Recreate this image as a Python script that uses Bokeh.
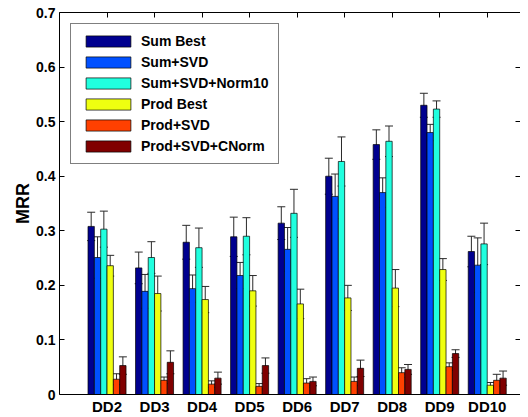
import numpy as np
from bokeh.plotting import figure
from bokeh.models import (ColumnDataSource, Range1d, LinearAxis, FixedTicker,
                          Whisker, TeeHead, CustomJSTickFormatter)
from bokeh.embed import file_html
from bokeh.resources import INLINE

categories = ["DD2", "DD3", "DD4", "DD5", "DD6", "DD7", "DD8", "DD9", "DD10"]
series_names = ["Sum Best", "Sum+SVD", "Sum+SVD+Norm10", "Prod Best", "Prod+SVD", "Prod+SVD+CNorm"]

sum_best = [0.308, 0.232, 0.279, 0.289, 0.314, 0.400, 0.458, 0.530, 0.262]
sum_best_err = [0.026, 0.029, 0.031, 0.036, 0.030, 0.033, 0.027, 0.022, 0.028]
sum_svd = [0.251, 0.189, 0.194, 0.218, 0.266, 0.363, 0.370, 0.480, 0.237]
sum_svd_err = [0.038, 0.031, 0.025, 0.024, 0.040, 0.041, 0.027, 0.015, 0.050]
sum_svd_norm10 = [0.303, 0.251, 0.269, 0.290, 0.332, 0.427, 0.464, 0.523, 0.276]
sum_svd_norm10_err = [0.033, 0.029, 0.036, 0.034, 0.044, 0.045, 0.028, 0.015, 0.038]
prod_best = [0.236, 0.185, 0.174, 0.190, 0.166, 0.177, 0.195, 0.229, 0.017]
prod_best_err = [0.019, 0.032, 0.024, 0.028, 0.027, 0.023, 0.034, 0.020, 0.005]
prod_svd = [0.028, 0.026, 0.019, 0.015, 0.021, 0.024, 0.040, 0.051, 0.026]
prod_svd_err = [0.010, 0.006, 0.006, 0.005, 0.008, 0.008, 0.009, 0.007, 0.011]
prod_svd_cnorm = [0.053, 0.059, 0.030, 0.053, 0.024, 0.048, 0.046, 0.075, 0.030]
prod_svd_cnorm_err = [0.016, 0.021, 0.011, 0.014, 0.008, 0.015, 0.009, 0.007, 0.013]

values = [sum_best, sum_svd, sum_svd_norm10, prod_best, prod_svd, prod_svd_cnorm]
errors = [sum_best_err, sum_svd_err, sum_svd_norm10_err, prod_best_err, prod_svd_err, prod_svd_cnorm_err]
colors = ["#00008F", "#0050FF", "#20FFDF", "#EFFF10", "#FF4000", "#800000"]

FONT = "Liberation Sans"

p = figure(width=520, height=417, output_backend="svg", toolbar_location=None,
           x_range=Range1d(0, 9.70), y_range=Range1d(0, 0.7),
           min_border_left=59, min_border_top=12, min_border_bottom=20, min_border_right=0)
p.outline_line_color = None
p.xgrid.visible = False
p.ygrid.visible = False

n = len(series_names)
group_w = 0.8
bw = group_w / n
pos = np.arange(1, len(categories) + 1)

for k in range(n):
    xs = pos + (k - (n - 1) / 2) * bw
    v = np.array(values[k])
    e = np.array(errors[k])
    src = ColumnDataSource(dict(x=xs, top=v, upper=v + e, lower=v - e))
    p.vbar(x="x", top="top", bottom=0, width=bw, source=src, fill_color=colors[k],
           line_color="black", line_width=0.7, legend_label=series_names[k])
    w = Whisker(base="x", upper="upper", lower="lower", source=src,
                line_color="#2a2a2a", line_width=1,
                upper_head=TeeHead(size=8, line_color="#2a2a2a", line_width=1),
                lower_head=TeeHead(size=8, line_color="#2a2a2a", line_width=1))
    p.add_layout(w)

# bottom axis
xa = p.xaxis[0]
xa.ticker = FixedTicker(ticks=list(pos))
xa.major_label_overrides = {int(i): c for i, c in zip(pos, categories)}
xa.major_tick_in = 0
xa.major_tick_out = 0
xa.minor_tick_line_color = None
xa.major_label_standoff = 3
xa.major_label_text_font = FONT
xa.major_label_text_font_style = "bold"
xa.major_label_text_font_size = "15px"
xa.major_label_text_color = "black"
xa.axis_line_color = "black"

# left axis
ya = p.yaxis[0]
ya.ticker = FixedTicker(ticks=[0, 0.1, 0.2, 0.3, 0.4, 0.5, 0.6, 0.7])
ya.major_label_overrides = {0: "0"}
ya.major_tick_in = 5
ya.major_tick_out = 0
ya.minor_tick_line_color = None
ya.major_label_standoff = 4
ya.major_label_text_font = FONT
ya.major_label_text_font_style = "bold"
ya.major_label_text_font_size = "14px"
ya.major_label_text_color = "black"
ya.axis_label = "MRR"
ya.axis_label_text_font = FONT
ya.axis_label_text_font_style = "bold"
ya.axis_label_text_font_size = "18px"
ya.axis_label_text_color = "black"
ya.axis_label_standoff = 0
ya.axis_line_color = "black"

# top axis (box edge)
blank = CustomJSTickFormatter(code="return ''")
top = LinearAxis(ticker=FixedTicker(ticks=list(pos)), formatter=blank,
                 major_tick_in=5, major_tick_out=0, minor_tick_line_color=None,
                 major_label_standoff=0, major_label_text_font_size="0px",
                 axis_line_color="black")
p.add_layout(top, "above")

# right axis ticks
right = LinearAxis(ticker=FixedTicker(ticks=[0.1, 0.2, 0.3, 0.4, 0.5, 0.6]), formatter=blank,
                   major_tick_in=5, major_tick_out=0, minor_tick_line_color=None,
                   major_label_standoff=0, major_label_text_font_size="0px",
                   axis_line_color=None)
p.add_layout(right, "right")

lg = p.legend[0]
lg.location = "top_left"
lg.margin = 11
lg.padding = 9
lg.spacing = 5
lg.glyph_width = 56
lg.glyph_height = 14
lg.label_height = 14
lg.label_standoff = 5
lg.label_text_font = FONT
lg.label_text_font_style = "bold"
lg.label_text_font_size = "14px"
lg.label_text_color = "black"
lg.border_line_color = "black"
lg.border_line_width = 1
lg.background_fill_color = "white"
lg.background_fill_alpha = 1

open("out.html", "w").write(file_html(p, INLINE))
